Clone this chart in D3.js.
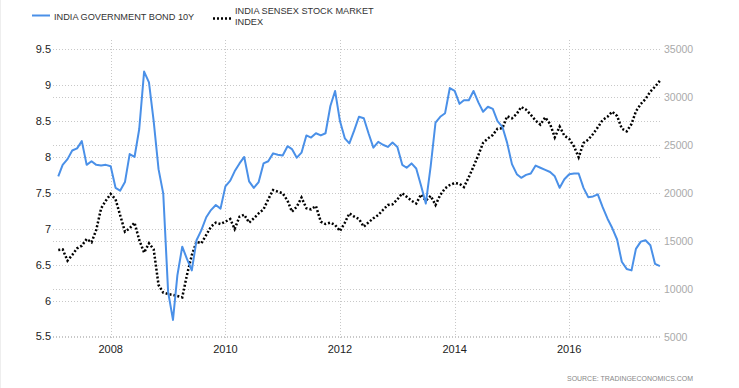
<!DOCTYPE html>
<html>
<head>
<meta charset="utf-8">
<script src="https://cdn.jsdelivr.net/npm/d3@7"></script>
<style>
  body { margin: 0; background: #fff; }
  svg { display: block; font-family: "Liberation Sans", Arial, sans-serif; }
</style>
</head>
<body>
<div id="chart"></div>
<script>
// monthly series, first point Feb 2007, last Aug 2017
const startMonth = new Date(2007, 1, 1);

const bond10y = [
  7.73, 7.89, 7.97, 8.09, 8.12, 8.22, 7.89, 7.94, 7.89, 7.88, 7.89,
  7.87, 7.57, 7.53, 7.65, 8.04, 8.00, 8.39, 9.19, 9.04, 8.50, 7.83, 7.49,
  6.12, 5.73, 6.35, 6.75, 6.58, 6.42, 6.84, 6.98, 7.16, 7.26, 7.33, 7.28,
  7.59, 7.67, 7.80, 7.91, 8.00, 7.66, 7.57, 7.65, 7.91, 7.94, 8.05, 8.03,
  8.02, 8.15, 8.11, 7.99, 8.06, 8.30, 8.27, 8.33, 8.30, 8.33, 8.71, 8.92,
  8.50, 8.26, 8.19, 8.37, 8.56, 8.54, 8.33, 8.13, 8.21, 8.17, 8.14, 8.20,
  8.14, 7.89, 7.85, 7.91, 7.84, 7.60, 7.35, 7.87, 8.48, 8.56, 8.61, 8.96,
  8.92, 8.74, 8.79, 8.79, 8.92, 8.76, 8.63, 8.70, 8.67, 8.50, 8.42, 8.20,
  7.90, 7.76, 7.71, 7.75, 7.77, 7.88, 7.85, 7.82, 7.79, 7.73, 7.57, 7.69,
  7.76, 7.77, 7.77, 7.57, 7.44, 7.45, 7.48, 7.30, 7.14, 7.01, 6.85, 6.54,
  6.44, 6.42, 6.72, 6.82, 6.84, 6.77, 6.51, 6.48
];

const sensex = [
  14060, 14130, 12950, 13540, 14240, 14510, 15210, 14860, 16150, 18400, 19200,
  19900, 19340, 17710, 15970, 16320, 16910, 15100, 13790, 14760, 14130, 10420, 9620,
  9480, 9380, 9270, 9130, 11460, 13540, 14930, 14760, 15630, 16490, 16910, 16770,
  17010, 17290, 16250, 17540, 17740, 16910, 17360, 17880, 18300, 19340, 20310, 20140,
  19970, 19200, 18050, 18570, 19530, 18410, 18300, 18650, 17010, 16770, 16910, 16670,
  16040, 16900, 17880, 17540, 17290, 16490, 16940, 17360, 17710, 18230, 18750, 18820,
  19340, 19970, 19620, 19200, 18900, 19850, 19200, 19700, 18750, 19790, 20490, 20830,
  21040, 20960, 20620, 21650, 22750, 23960, 25220, 25690, 26040, 26700, 26740, 27990,
  27780, 28260, 28960, 28680, 28150, 27540, 27120, 27880, 27190, 25800, 26910, 25970,
  25630, 24830, 23720, 25210, 25560, 26150, 26840, 27600, 27950, 28470, 28020, 26700,
  26420, 27190, 28510, 29270, 29790, 30560, 31080, 31700
];

const leftTicks = [5.5, 6, 6.5, 7, 7.5, 8, 8.5, 9, 9.5];
const rightTicks = [5000, 10000, 15000, 20000, 25000, 30000, 35000];
const yearTicks = [2008, 2010, 2012, 2014, 2016];

const width = 739, height = 388;
const svg = d3.select("#chart").append("svg")
  .attr("width", width).attr("height", height);

// plot box
const plotL = 53, plotR = 661, plotT = 40, plotB = 340;

const x = d3.scaleTime()
  .domain([new Date(2007, 0, 1), new Date(2017, 8, 1)])
  .range([53.4, 664.8]);
const yL = d3.scaleLinear().domain([5.5, 9.5]).range([336.4, 49.3]);
const yR = d3.scaleLinear().domain([5000, 35000]).range([337, 49]);

const bondData = bond10y.map((v, i) => ({ date: d3.timeMonth.offset(startMonth, i), value: v }));
const sensexData = sensex.map((v, i) => ({ date: d3.timeMonth.offset(startMonth, i), value: v }));

// faint left border
svg.append("line")
  .attr("x1", 0.5).attr("x2", 0.5).attr("y1", 0).attr("y2", height)
  .attr("stroke", "#eee");

// grid lines
const grid = svg.append("g").attr("stroke", "#c8c8c8").attr("stroke-dasharray", "1,2");
grid.selectAll(".gl").data(leftTicks).join("line")
  .attr("x1", plotL).attr("x2", plotR)
  .attr("y1", d => Math.round(yL(d)) + 0.5).attr("y2", d => Math.round(yL(d)) + 0.5);
grid.selectAll(".gr").data(rightTicks).join("line")
  .attr("x1", plotL).attr("x2", plotR)
  .attr("y1", d => Math.round(yR(d)) + 0.5).attr("y2", d => Math.round(yR(d)) + 0.5);
grid.selectAll(".gx").data(yearTicks).join("line")
  .attr("x1", d => Math.round(x(new Date(d, 0, 1))) + 0.5)
  .attr("x2", d => Math.round(x(new Date(d, 0, 1))) + 0.5)
  .attr("y1", plotT).attr("y2", plotB);

// left axis labels
svg.append("g").selectAll("text").data(leftTicks).join("text")
  .attr("x", 51).attr("y", d => yL(d) + 4)
  .attr("text-anchor", "end")
  .attr("font-size", 11).attr("fill", "#222")
  .text(d => String(d));

// right axis labels
svg.append("g").selectAll("text").data(rightTicks).join("text")
  .attr("x", 664).attr("y", d => yR(d) + 4)
  .attr("font-size", 10.5).attr("fill", "#aaa")
  .text(d => String(d));

// bottom labels
svg.append("g").selectAll("text").data(yearTicks).join("text")
  .attr("x", d => x(new Date(d, 0, 1))).attr("y", 353)
  .attr("text-anchor", "middle")
  .attr("font-size", 11).attr("fill", "#222")
  .text(d => d);

// series
const bondLine = d3.line().x(d => x(d.date)).y(d => yL(d.value));
const sensexLine = d3.line().x(d => x(d.date)).y(d => yR(d.value));

svg.append("path").datum(sensexData)
  .attr("d", sensexLine)
  .attr("fill", "none").attr("stroke", "#000")
  .attr("stroke-width", 2.5).attr("stroke-dasharray", "2,2");

svg.append("path").datum(bondData)
  .attr("d", bondLine)
  .attr("fill", "none").attr("stroke", "#4a90e8")
  .attr("stroke-width", 2).attr("stroke-linejoin", "round");

// legend
const legend = svg.append("g").attr("font-size", 9.2).attr("fill", "#333");
legend.append("line")
  .attr("x1", 32).attr("x2", 50).attr("y1", 15.5).attr("y2", 15.5)
  .attr("stroke", "#4a90e8").attr("stroke-width", 2);
legend.append("text").attr("x", 54).attr("y", 19.5).text("INDIA GOVERNMENT BOND 10Y");
legend.append("line")
  .attr("x1", 213).attr("x2", 231).attr("y1", 18.5).attr("y2", 18.5)
  .attr("stroke", "#000").attr("stroke-width", 2.5).attr("stroke-dasharray", "2,2");
legend.append("text").attr("x", 235).attr("y", 13.8).text("INDIA SENSEX STOCK MARKET");
legend.append("text").attr("x", 235).attr("y", 25).text("INDEX");

// source
svg.append("text")
  .attr("x", 693).attr("y", 381)
  .attr("text-anchor", "end")
  .attr("font-size", 8).attr("fill", "#888")
  .attr("textLength", 126).attr("lengthAdjust", "spacingAndGlyphs")
  .text("SOURCE: TRADINGECONOMICS.COM");
</script>
</body>
</html>
